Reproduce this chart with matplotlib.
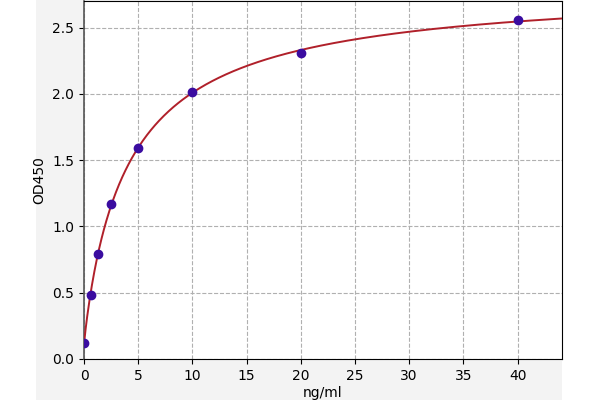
import numpy as np
import matplotlib
matplotlib.use("Agg")
import matplotlib.pyplot as plt
from matplotlib.patches import Rectangle

# standard concentrations (ng/ml) and measured OD450
conc = [0, 0.625, 1.25, 2.5, 5, 10, 20, 40]
od450 = [0.12, 0.48, 0.79, 1.17, 1.59, 2.01, 2.31, 2.56]

x_ticks = [0, 5, 10, 15, 20, 25, 30, 35, 40]
y_ticks = [0.0, 0.5, 1.0, 1.5, 2.0, 2.5]


# 4-parameter logistic fit (small Levenberg-Marquardt, no scipy needed)
def f4pl(x, p):
    a, b, c, d = p
    return d + (a - d) / (1.0 + (np.abs(x) / c) ** b)


def fit_4pl(x, y, p0):
    p = np.array(p0, dtype=float)
    lam = 1e-3
    for _ in range(500):
        r = y - f4pl(x, p)
        J = np.zeros((len(x), len(p)))
        for j in range(len(p)):
            dp = np.zeros_like(p)
            dp[j] = 1e-6 * max(abs(p[j]), 1.0)
            J[:, j] = (f4pl(x, p + dp) - f4pl(x, p - dp)) / (2 * dp[j])
        A = J.T @ J
        g = J.T @ r
        step = np.linalg.solve(A + lam * np.diag(np.diag(A)), g)
        p_new = p + step
        if p_new[2] > 0 and np.sum((y - f4pl(x, p_new)) ** 2) < np.sum(r ** 2):
            p = p_new
            lam *= 0.3
        else:
            lam *= 10
    return p


xs = np.array(conc, dtype=float)
ys = np.array(od450, dtype=float)
params = fit_4pl(xs, ys, [0.1, 1.0, 5.0, 3.0])
x_fit = np.linspace(0, 44.1, 600)
y_fit = f4pl(x_fit, params)

fig = plt.figure(figsize=(6, 4), dpi=100)
bg = Rectangle((0.06, 0), 0.8767, 1, transform=fig.transFigure,
               facecolor="#f3f3f3", edgecolor="none", zorder=-1)
fig.add_artist(bg)
ax = fig.add_axes([0.14, 0.1025, 0.7967, 0.895])
ax.set_zorder(1)

ax.plot(x_fit, y_fit, color="#b0202a", linewidth=1.4, zorder=3)
ax.plot(conc, od450, "o", color="#3a0ca0", markersize=6, zorder=4)

ax.set_xlim(0, 44.1)
ax.set_ylim(0, 2.7)
ax.set_xticks(x_ticks)
ax.set_yticks(y_ticks)
ax.grid(True, color="#b0b0b0", linestyle="--", linewidth=0.8)
ax.set_axisbelow(True)
ax.spines["left"].set_color("#555555")
ax.spines["left"].set_linewidth(1.2)
ax.tick_params(labelsize=10)
ax.set_xlabel("ng/ml", fontsize=10, labelpad=2)
ax.set_ylabel("OD450", fontsize=10)

fig.savefig("out.png", dpi=100)
